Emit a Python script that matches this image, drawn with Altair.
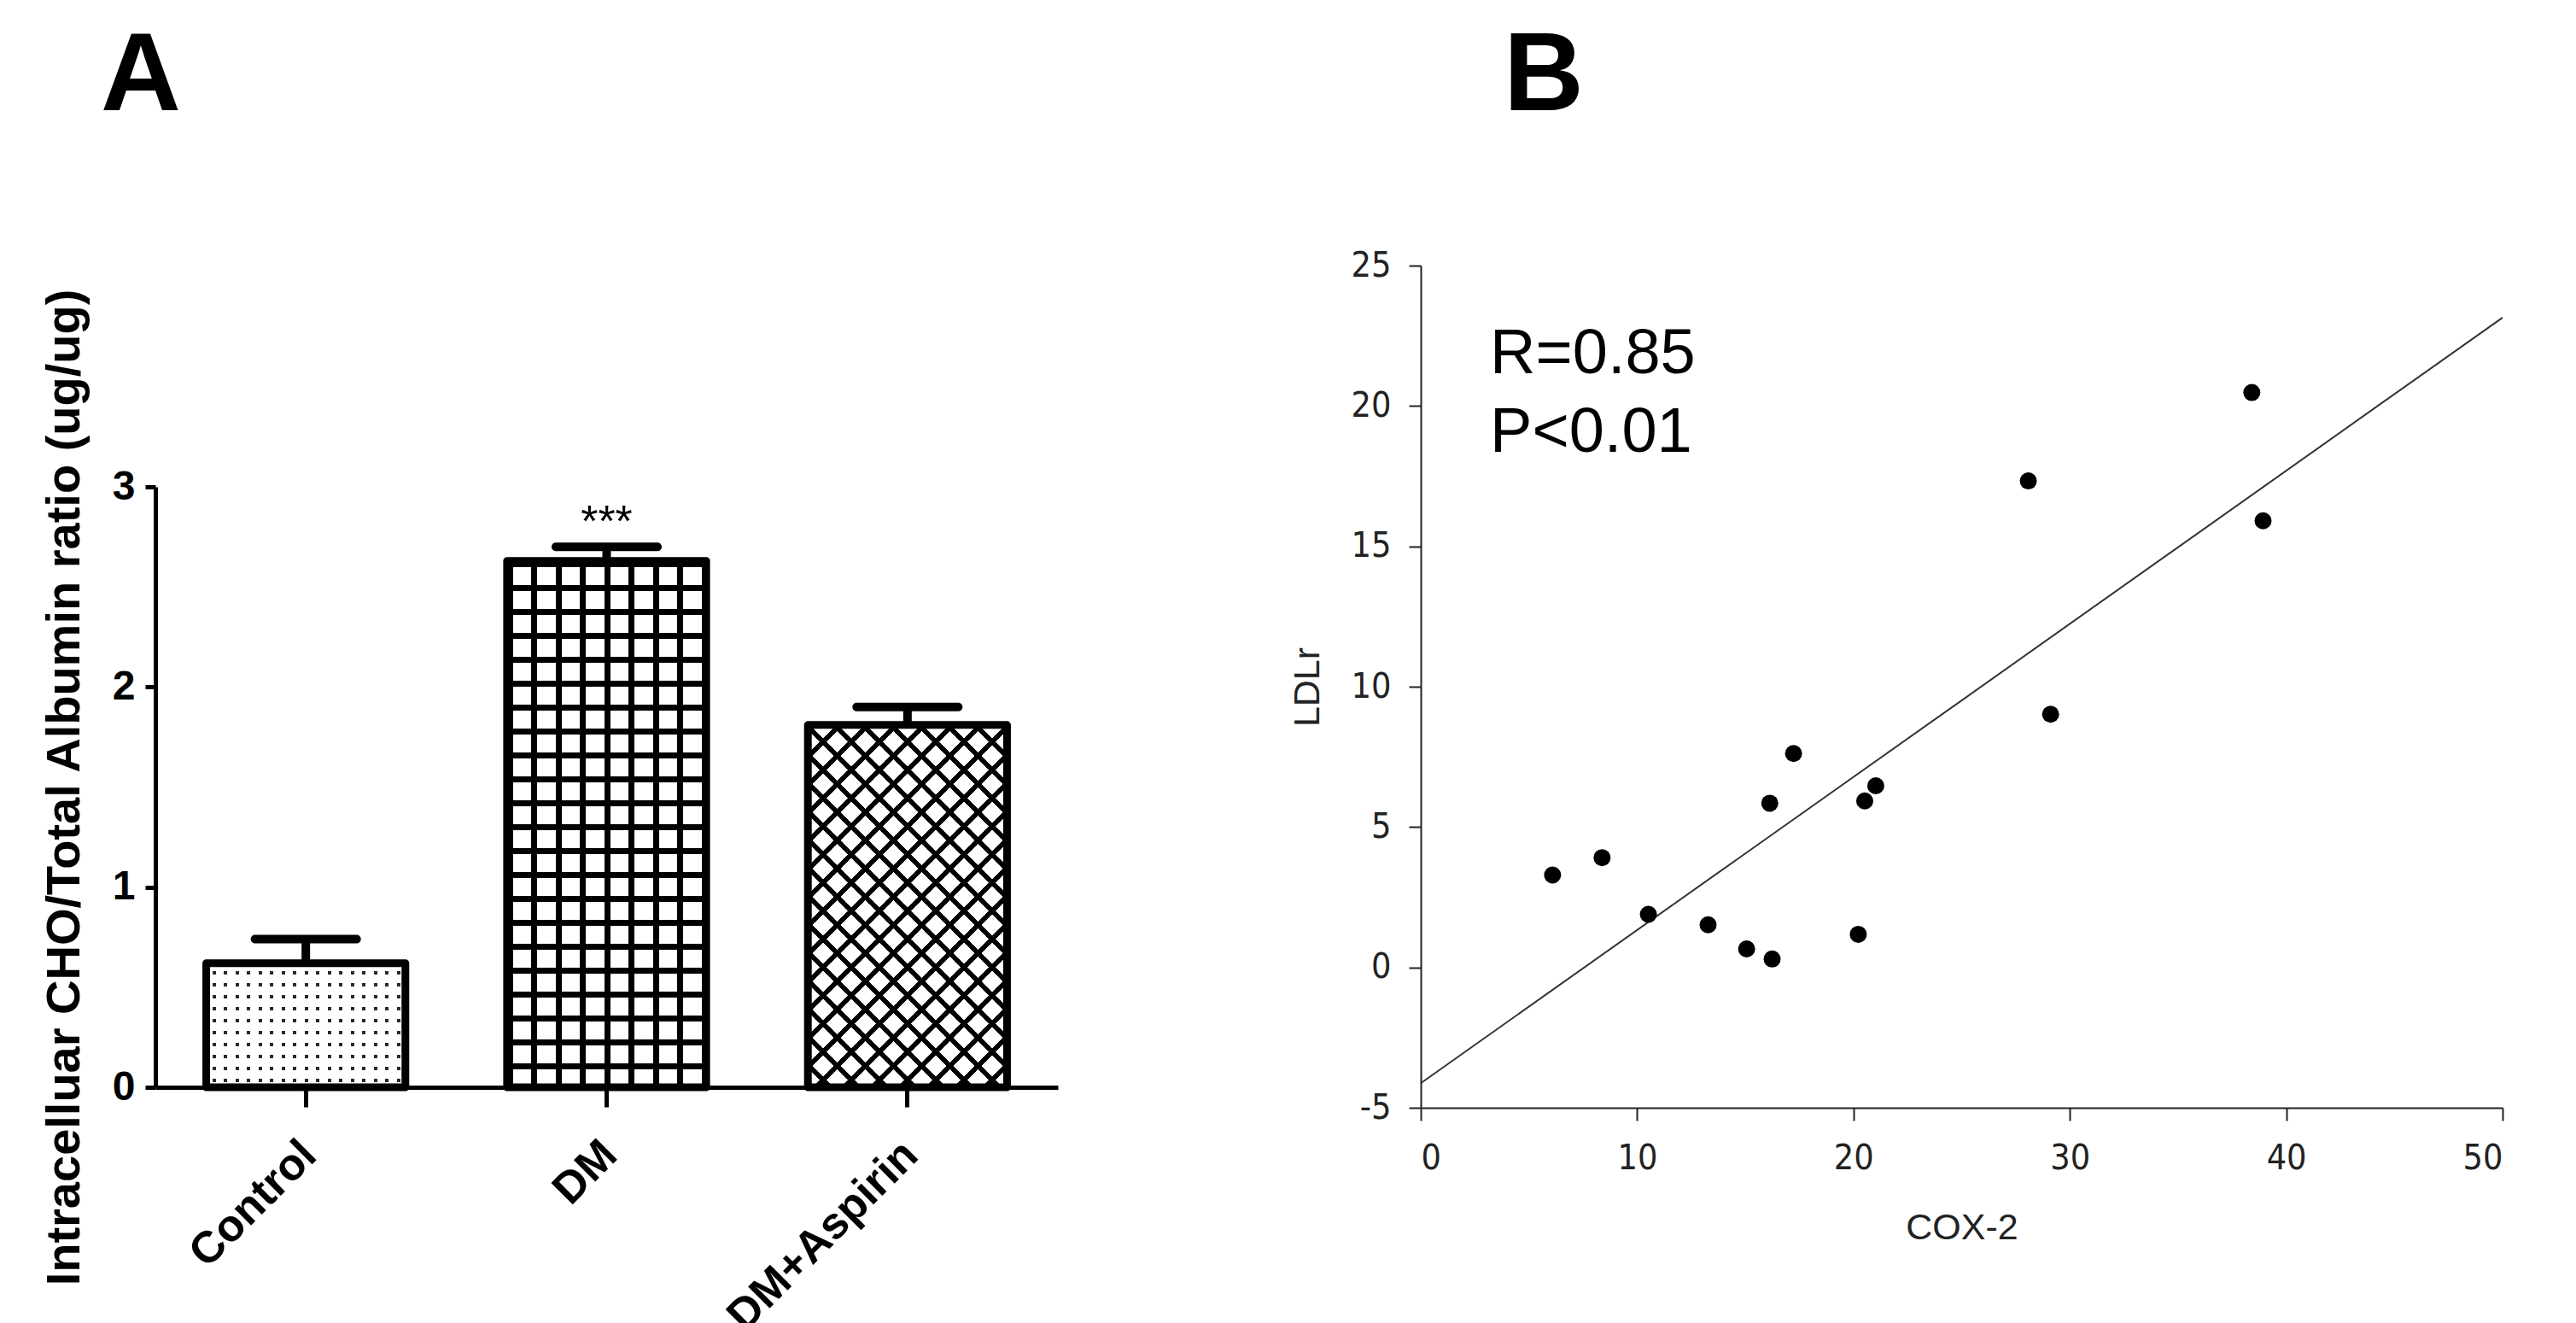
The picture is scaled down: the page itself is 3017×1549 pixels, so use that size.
import altair as alt
import pandas as pd

# ---------------- data ----------------
groups = ["Control", "DM", "DM+Aspirin"]
means = [0.62, 2.63, 1.81]
err_upper = [0.74, 2.70, 1.90]
sig = ["", "***", ""]

cox2 = [6.09, 8.38, 10.52, 13.28, 15.06, 16.13, 16.24, 17.23, 20.22, 20.52, 21.03, 28.08, 29.11, 38.41, 38.93]
ldlr = [3.29, 3.91, 1.89, 1.52, 0.66, 5.85, 0.30, 7.62, 1.18, 5.93, 6.47, 17.33, 9.02, 20.48, 15.91]

ann_x = [3.2, 3.2]
ann_y = [21.17, 18.37]
ann_text = ["R=0.85", "P<0.01"]

yticks_a = [0, 1, 2, 3]
xticks_b = [0, 10, 20, 30, 40, 50]
yticks_b = [-5, 0, 5, 10, 15, 20, 25]

# ---------------- sizes / styles ----------------
A_W = 1057
A_VIEW_H = 962          # view of panel A (top aligned with panel B)
A_RANGE = [962, 259]    # pixel range of the 0..3 axis inside that view
A_H = A_RANGE[0] - A_RANGE[1]
B_W, B_H = 1267, 986
P_IN, P_OUT = 0.338, 0.169
step = A_W / (3 - P_IN + 2 * P_OUT)
BW = step * (1 - P_IN)
bar_h = [m / 3.0 * A_H for m in means]

CLEAR = "rgba(255,255,255,0)"


def GS(o, c):
    return alt.GradientStop(offset=round(min(max(o, 0), 1), 6), color=c)


def stripe_grad(x1, y1, x2, y2, period, width, line, bg, phase=0.0):
    stops = [GS(0, bg)]
    a = phase
    while a < 1:
        b = min(a + width, 1)
        stops += [GS(a, bg), GS(a, line), GS(b, line), GS(b, bg)]
        a += period
    stops.append(GS(1, bg))
    return alt.LinearGradient(gradient="linear", x1=x1, y1=y1, x2=x2, y2=y2, stops=stops)


# Control: dotted
hc = bar_h[0]
ctrl_rows = stripe_grad(0, 0, 0, 1, 14 / hc, 4 / hc, "#2a2a2a", "white", phase=9 / hc)
ctrl_cols = stripe_grad(0, 0, 1, 0, 13.5 / BW, 4 / BW, CLEAR, "white", phase=7 / BW)
# DM: square grid
hd = bar_h[1]
dm_v = stripe_grad(0, 0, 1, 0, 28.5 / BW, 7 / BW, "black", "white", phase=0)
dm_h = stripe_grad(0, 0, 0, 1, 28 / hd, 7 / hd, "black", CLEAR, phase=0)
# DM+Aspirin: diagonal crosshatch (45 degree lines)
ha = bar_h[2]
r = ha / BW
span = BW * (1 + r * r)
D = 33.0
asp_1 = stripe_grad(0, 0, 1, r, D / span, 8.5 / span, "black", "white", phase=0)
asp_2 = stripe_grad(1, 0, 0, r, D / span, 8.5 / span, "black", CLEAR, phase=0)

df_a = pd.DataFrame({"group": groups, "mean": means, "upper": err_upper, "sig": sig})
df_b = pd.DataFrame({"cox2": cox2, "ldlr": ldlr})
df_ann = pd.DataFrame({"x": ann_x, "y": ann_y, "t": ann_text})

BOLD = "Liberation Sans"

x_a = alt.X(
    "group:N",
    sort=groups,
    scale=alt.Scale(paddingInner=P_IN, paddingOuter=P_OUT),
    axis=alt.Axis(
        title=None, labelAngle=-45, labelAlign="right", labelBaseline="top",
        labelFont=BOLD, labelFontWeight="bold", labelFontSize=52, labelColor="black",
        labelPadding=30, labelOffset=-14, labelLimit=2000, labelOverlap=False,
        tickSize=23, tickWidth=5, tickColor="black",
        domainWidth=5, domainColor="black", grid=False,
    ),
)
y_a = alt.Y(
    "mean:Q",
    scale=alt.Scale(domain=[0, 3], nice=False, range=A_RANGE),
    axis=alt.Axis(
        title="Intracelluar CHO/Total Albumin ratio (ug/ug)", values=yticks_a, format="d",
        titleFont=BOLD, titleFontWeight="bold", titleFontSize=56, titleColor="black",
        titlePadding=27,
        labelFont=BOLD, labelFontWeight="bold", labelFontSize=48, labelColor="black",
        labelPadding=12, tickSize=12, tickWidth=5, tickColor="black",
        domainWidth=5, domainColor="black", grid=False,
    ),
)

base_a = alt.Chart(df_a).encode(x=x_a, y=y_a)


def pat(g, grad):
    return base_a.transform_filter(alt.datum.group == g).mark_bar(fill=grad, strokeWidth=0)


layers_a = [
    pat("Control", ctrl_rows), pat("Control", ctrl_cols),
    pat("DM", dm_v), pat("DM", dm_h),
    pat("DM+Aspirin", asp_1), pat("DM+Aspirin", asp_2),
    base_a.mark_bar(fill="white", fillOpacity=0, stroke="black", strokeWidth=9, strokeJoin="round"),
    alt.Chart(df_a).mark_rule(color="black", strokeWidth=10).encode(
        x=alt.X("group:N", sort=groups), y="mean:Q", y2="upper:Q"),
    alt.Chart(df_a).mark_tick(color="black", size=129, thickness=10, opacity=1, cornerRadius=5).encode(
        x=alt.X("group:N", sort=groups), y="upper:Q"),
    alt.Chart(df_a).mark_text(font=BOLD, fontSize=52, color="black", baseline="alphabetic", dy=-12).encode(
        x=alt.X("group:N", sort=groups), y="upper:Q", text="sig:N"),
]

chart_a = alt.layer(*layers_a).properties(
    width=A_W, height=A_VIEW_H,
    title=alt.TitleParams("A", anchor="start", frame="group", font=BOLD, fontWeight="bold",
                          fontSize=130, color="black", dx=-64, offset=52, baseline="alphabetic"),
)

NARROW = "Liberation Sans Narrow, DejaVu Sans Condensed, Liberation Sans"
x_b = alt.X(
    "cox2:Q",
    scale=alt.Scale(domain=[0, 50], nice=False),
    axis=alt.Axis(
        title="COX-2", values=xticks_b, grid=False,
        titleFont="Liberation Sans", titleFontWeight="normal", titleFontSize=43, titleColor="#222",
        titlePadding=40,
        labelFont=NARROW, labelFontSize=41, labelColor="#222", labelPadding=24,
        tickSize=15, tickWidth=2, tickColor="#222", domainWidth=2, domainColor="#222",
    ),
)
y_b = alt.Y(
    "ldlr:Q",
    scale=alt.Scale(domain=[-5, 25], nice=False),
    axis=alt.Axis(
        title="LDLr", values=yticks_b, grid=False,
        labelExpr="datum.value < 0 ? '-' + abs(datum.value) : datum.label",
        titleFont="Liberation Sans", titleFontWeight="normal", titleFontSize=43, titleColor="#222",
        titlePadding=29,
        labelFont=NARROW, labelFontSize=41, labelColor="#222", labelPadding=21,
        tickSize=14, tickWidth=2, tickColor="#222", domainWidth=2, domainColor="#222",
    ),
)

pts = alt.Chart(df_b).mark_circle(size=400, color="black", opacity=1).encode(x=x_b, y=y_b)
fit = alt.Chart(df_b).transform_regression("cox2", "ldlr", extent=[0, 50]).mark_line(
    color="#333", strokeWidth=2).encode(x="cox2:Q", y="ldlr:Q")
ann = alt.Chart(df_ann).mark_text(font="Liberation Sans", fontSize=74, color="black",
                                  align="left", baseline="alphabetic").encode(
    x="x:Q", y="y:Q", text="t:N")

chart_b = alt.layer(fit, pts, ann).properties(
    width=B_W, height=B_H,
    title=alt.TitleParams("B", anchor="start", frame="group", font=BOLD, fontWeight="bold",
                          fontSize=130, color="black", dx=97, offset=31, baseline="alphabetic"),
)

chart = alt.hconcat(chart_a, chart_b, spacing=271).properties(
    padding={"left": 39, "top": 17, "right": 0, "bottom": 0},
    background="white",
).configure_view(strokeWidth=0, stroke="transparent")

chart.save("out.html", embed_options={"renderer": "svg", "actions": False})
